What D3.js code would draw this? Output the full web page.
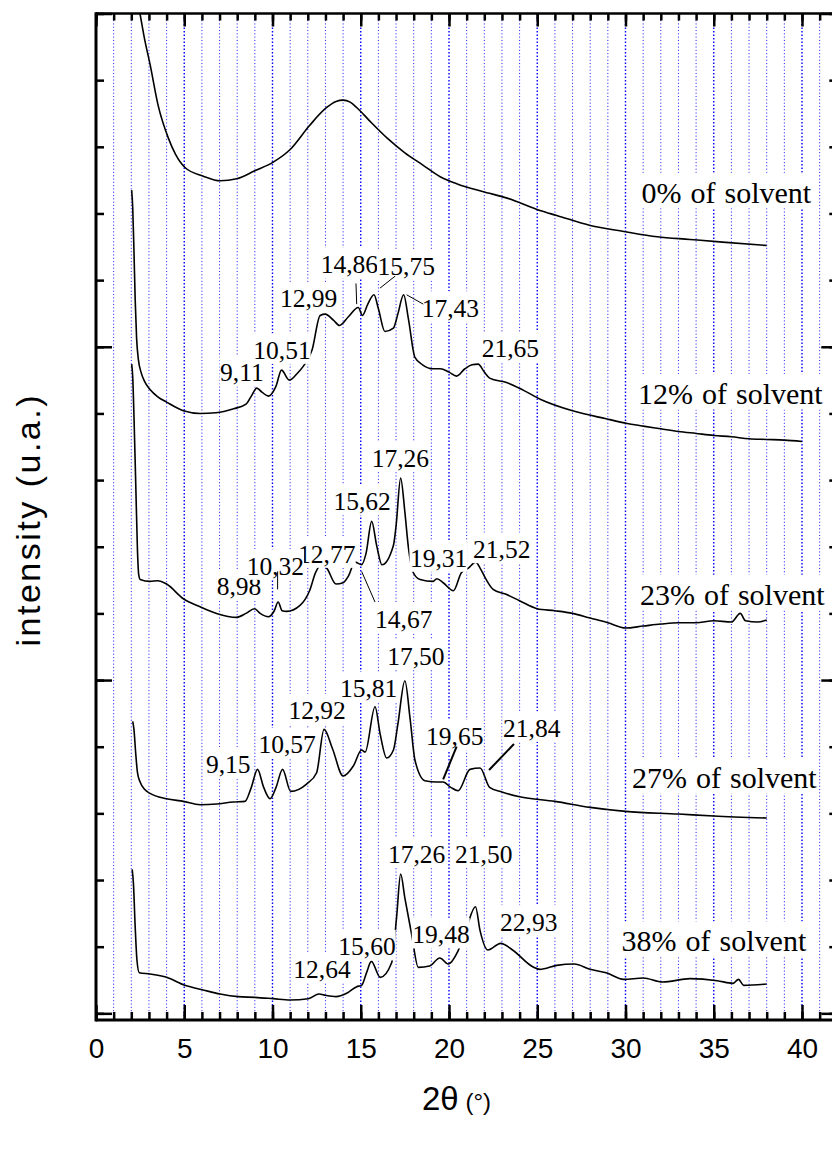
<!DOCTYPE html>
<html>
<head>
<meta charset="utf-8">
<script src="https://cdn.jsdelivr.net/npm/d3@7"></script>
<style>
  html, body { margin: 0; padding: 0; background: #fff; }
  svg { display: block; }
  .serif { font-family: "Liberation Serif", "Times New Roman", serif; }
  .sans { font-family: "Liberation Sans", Arial, sans-serif; }
</style>
</head>
<body>
<svg id="chart" width="832" height="1155"></svg>
<script>
// X-ray diffraction patterns, 2θ in degrees vs. intensity (arbitrary units, stacked)
const xTicksMajor = [0, 5, 10, 15, 20, 25, 30, 35, 40];

const solvent0 = [
  [2.3, 15.26], [2.49, 15.0], [2.75, 14.62], [3.06, 14.24], [3.53, 13.61], [4.1, 13.13],
  [4.5, 12.89], [5.04, 12.69], [6.08, 12.56], [7.03, 12.49], [7.97, 12.52], [9.0, 12.64],
  [10.04, 12.77], [11.0, 12.96], [12.1, 13.32], [13.07, 13.59], [13.6, 13.68], [14.0, 13.70],
  [14.4, 13.67], [14.77, 13.59], [15.5, 13.39], [16.5, 13.13], [17.5, 12.91], [18.5, 12.73],
  [19.5, 12.55], [20.5, 12.44], [21.9, 12.33], [23.3, 12.23], [25.2, 12.04], [26.1, 11.97],
  [28.0, 11.82], [29.9, 11.73], [31.8, 11.65], [33.65, 11.61], [35.5, 11.57], [38.0, 11.52]
];

const solvent12 = [
  [2.02, 12.35], [2.08, 12.09], [2.15, 11.44], [2.22, 10.71], [2.3, 10.13], [2.4, 9.81],
  [2.55, 9.62], [2.75, 9.48], [3.06, 9.36], [3.5, 9.25], [4.0, 9.17], [4.95, 9.04],
  [5.9, 9.00], [6.8, 9.01], [7.8, 9.07], [8.5, 9.14], [8.8, 9.26], [9.11, 9.38],
  [9.4, 9.32], [9.77, 9.26], [10.2, 9.41], [10.51, 9.65], [10.95, 9.50], [11.4, 9.60],
  [11.75, 9.71], [12.24, 9.95], [12.7, 10.47], [12.99, 10.49], [13.45, 10.40], [13.8, 10.32],
  [14.3, 10.45], [14.86, 10.59], [15.1, 10.47], [15.4, 10.64], [15.75, 10.78], [16.0, 10.57],
  [16.37, 10.23], [16.85, 10.28], [17.1, 10.49], [17.43, 10.78], [17.7, 10.42], [18.07, 9.84],
  [18.5, 9.73], [19.1, 9.67], [19.5, 9.67], [20.0, 9.62], [20.43, 9.56], [20.9, 9.67],
  [21.3, 9.73], [21.65, 9.74], [22.0, 9.62], [22.3, 9.53], [23.3, 9.46], [24.2, 9.35],
  [25.2, 9.21], [27.0, 9.04], [28.9, 8.92], [30.1, 8.85], [31, 8.81], [32, 8.77],
  [33, 8.73], [34, 8.70], [35, 8.67], [36, 8.65], [37, 8.62], [38, 8.61], [39, 8.60], [40, 8.58]
];

const solvent23 = [
  [2.02, 9.74], [2.08, 9.55], [2.15, 8.97], [2.25, 7.96], [2.35, 6.94], [2.42, 6.58],
  [2.5, 6.51], [3.06, 6.48], [3.5, 6.49], [4.0, 6.44], [4.95, 6.22], [5.9, 6.10],
  [6.83, 6.00], [7.97, 5.94], [8.5, 6.00], [8.98, 6.07], [9.3, 6.00], [9.77, 5.95],
  [10.1, 6.04], [10.32, 6.17], [10.55, 6.04], [10.8, 6.03], [11.56, 6.12], [12.1, 6.34],
  [12.45, 6.62], [12.77, 6.73], [13.07, 6.68], [13.6, 6.44], [14.0, 6.46], [14.3, 6.56],
  [14.67, 6.77], [15.05, 6.73], [15.3, 6.90], [15.62, 7.38], [15.9, 7.02], [16.2, 6.73],
  [16.85, 7.02], [17.0, 7.31], [17.26, 8.03], [17.5, 7.52], [17.7, 6.99], [17.98, 6.61],
  [18.36, 6.51], [19.1, 6.48], [19.31, 6.52], [19.67, 6.46], [20.25, 6.34], [20.7, 6.61],
  [21.1, 6.68], [21.52, 6.77], [21.76, 6.68], [22.1, 6.51], [22.5, 6.36], [23.2, 6.29],
  [24, 6.19], [25, 6.07], [26, 6.04], [27, 6.00], [28, 5.93], [29, 5.86], [30, 5.78],
  [31, 5.81], [32, 5.84], [33, 5.86], [34, 5.86], [35, 5.89], [36, 5.87], [36.5, 6.00],
  [36.8, 5.89], [37.5, 5.87], [38, 5.90]
];

const solvent27 = [
  [2.08, 4.38], [2.15, 4.26], [2.25, 3.90], [2.35, 3.61], [2.5, 3.47], [2.75, 3.36],
  [3.06, 3.30], [4.0, 3.22], [4.95, 3.18], [5.9, 3.13], [6.83, 3.14], [7.78, 3.17],
  [8.44, 3.18], [8.8, 3.39], [9.15, 3.66], [9.5, 3.39], [9.86, 3.22], [10.2, 3.39],
  [10.57, 3.66], [11.03, 3.33], [11.93, 3.44], [12.5, 3.61], [12.92, 4.26], [13.4, 3.97],
  [14.0, 3.56], [14.58, 3.71], [15.05, 3.95], [15.25, 3.92], [15.81, 4.60], [16.1, 4.19],
  [16.47, 3.83], [16.85, 3.95], [17.1, 4.33], [17.5, 4.99], [17.8, 4.41], [18.07, 3.80],
  [18.64, 3.49], [19.3, 3.47], [19.67, 3.47], [20.1, 3.39], [20.52, 3.34], [21.19, 3.66],
  [21.76, 3.68], [22.3, 3.39], [23.0, 3.32], [24.0, 3.25], [26, 3.18], [28, 3.09],
  [30, 3.03], [33, 2.99], [35, 2.96], [38, 2.93]
];

const solvent38 = [
  [2.05, 2.16], [2.12, 1.95], [2.22, 1.30], [2.32, 0.80], [2.45, 0.61], [3.06, 0.59], [4.0, 0.54],
  [5.04, 0.42], [6.08, 0.35], [7.03, 0.29], [8.06, 0.25], [9.0, 0.24], [10.04, 0.22],
  [11.0, 0.20], [12.03, 0.22], [12.64, 0.29], [13.0, 0.27], [13.6, 0.25], [14.2, 0.30],
  [14.77, 0.40], [15.05, 0.42], [15.33, 0.61], [15.6, 0.78], [16.1, 0.54], [16.75, 0.76],
  [17.03, 1.44], [17.26, 2.09], [17.5, 1.73], [17.88, 1.19], [18.26, 0.69], [18.9, 0.71],
  [19.48, 0.83], [19.96, 0.74], [20.5, 0.93], [21.0, 1.29], [21.5, 1.60], [21.76, 1.24],
  [22.2, 0.95], [22.93, 1.05], [23.6, 0.95], [24.8, 0.69], [25.15, 0.66], [26.1, 0.72],
  [27.1, 0.74], [28.0, 0.66], [28.9, 0.61], [29.9, 0.51], [31.0, 0.53], [32.1, 0.47],
  [33.65, 0.52], [35.2, 0.49], [36.1, 0.45], [36.4, 0.51], [36.7, 0.42], [38.0, 0.44]
];

const patterns = [solvent0, solvent12, solvent23, solvent27, solvent38];

// sample names, anchored at [2θ, intensity] of the text start / baseline
const sampleNames = ["0% of solvent", "12% of solvent", "23% of solvent", "27% of solvent", "38% of solvent"];
const sampleAnchors = [[30.91, 12.16], [30.71, 9.14], [30.82, 6.13], [30.37, 3.38], [29.78, 0.93]];

// peak annotations: text, anchor [2θ, intensity] (text start, baseline)
const peakTexts = [
  "9,11", "10,51", "12,99", "14,86", "15,75", "17,43", "21,65",
  "8,98", "12,77", "10,32", "15,62", "17,26", "19,31", "21,52", "14,67",
  "9,15", "10,57", "12,92", "15,81", "17,50", "19,65", "21,84",
  "12,64", "15,60", "17,26", "19,48", "21,50", "22,93"
];
const peakAnchors = [
  [7.03, 9.48], [8.91, 9.82], [10.42, 10.59], [12.73, 11.10], [15.95, 11.07], [18.45, 10.45], [21.85, 9.84],
  [6.84, 6.27], [11.45, 6.76], [8.54, 6.58], [13.45, 7.55], [15.62, 8.20], [17.79, 6.70], [21.36, 6.83], [15.81, 5.78],
  [6.23, 3.61], [9.20, 3.90], [10.90, 4.41], [13.82, 4.74], [16.50, 5.23], [18.70, 4.02], [23.06, 4.15],
  [11.18, 0.53], [13.73, 0.87], [16.54, 2.26], [17.92, 1.05], [20.34, 2.26], [22.89, 1.24]
];

// leader lines from labels to peaks: [[2θ, I], [2θ, I]], and their weight
const leaders = [
  [[14.73, 10.95], [14.77, 10.64]],
  [[16.95, 11.06], [16.09, 10.88]],
  [[18.54, 10.64], [17.60, 10.78]],
  [[10.29, 6.63], [10.29, 6.36]],
  [[15.05, 6.63], [15.81, 6.17]],
  [[20.43, 4.00], [19.67, 3.51]],
  [[23.68, 4.04], [22.27, 3.65]]
];
const leaderHeavy = [false, false, false, false, false, true, true];

const svg = d3.select("#chart");

const x = d3.scaleLinear().domain([0, 42]).range([96, 96 + 42 * 17.65]);
const y = d3.scaleLinear().domain([-0.1, 15]).range([1020, 13.5]);

const [x0, x1] = x.range();
const [yb, yt] = y.range();

svg.append("defs").append("clipPath").attr("id", "plot-clip")
  .append("rect").attr("x", x0).attr("y", yt).attr("width", x1 - x0).attr("height", yb - yt);

// dotted vertical grid, one line per degree
const gridVals = d3.range(1, 42);
svg.append("g").selectAll("line").data(gridVals).join("line")
  .attr("x1", d => x(d)).attr("x2", d => x(d))
  .attr("y1", yt).attr("y2", yb)
  .attr("stroke", d => d % 5 === 0 ? "#0000ff" : "#2626ff")
  .attr("stroke-width", d => d % 5 === 0 ? 1.4 : 1)
  .attr("stroke-dasharray", d => d % 5 === 0 ? "1.6,1.9" : "1.1,2.2");

// diffraction curves
const line = d3.line().x(d => x(d[0])).y(d => y(d[1])).curve(d3.curveMonotoneX);
svg.append("g").attr("clip-path", "url(#plot-clip)")
  .selectAll("path").data(patterns).join("path")
  .attr("d", line)
  .attr("fill", "none")
  .attr("stroke", "#000")
  .attr("stroke-width", 1.6)
  .attr("stroke-linejoin", "round");

// axes with inward ticks
const minorX = d3.range(0, 43);
const minorY = d3.range(0, 16);
function styleAxis(g) {
  g.select(".domain").remove();
  g.selectAll(".tick line").attr("stroke", "#000").attr("stroke-width", 2.5);
}
svg.append("g").attr("transform", `translate(0,${yb})`)
  .call(d3.axisBottom(x).tickValues(minorX).tickSize(-8).tickSizeOuter(0).tickFormat(""))
  .call(styleAxis);
svg.append("g").attr("transform", `translate(0,${yb})`)
  .call(d3.axisBottom(x).tickValues(xTicksMajor).tickSize(-15).tickSizeOuter(0).tickPadding(18.5).tickFormat(d3.format("d")))
  .call(styleAxis)
  .call(g => g.selectAll("text").attr("class", "sans").attr("font-size", 28).attr("fill", "#000"));
svg.append("g").attr("transform", `translate(0,${yt})`)
  .call(d3.axisTop(x).tickValues(minorX).tickSize(-7).tickSizeOuter(0).tickFormat(""))
  .call(styleAxis);
svg.append("g").attr("transform", `translate(0,${yt})`)
  .call(d3.axisTop(x).tickValues(xTicksMajor).tickSize(-13).tickSizeOuter(0).tickFormat(""))
  .call(styleAxis);
[[x0, d3.axisLeft], [x1, d3.axisRight]].forEach(([px, ax]) => {
  svg.append("g").attr("transform", `translate(${px},0)`)
    .call(ax(y).tickValues(minorY).tickSize(-8).tickSizeOuter(0).tickFormat(""))
    .call(styleAxis);
  svg.append("g").attr("transform", `translate(${px},0)`)
    .call(ax(y).tickValues([0, 5, 10, 15]).tickSize(-16).tickSizeOuter(0).tickFormat(""))
    .call(styleAxis);
});

// frame
svg.append("line").attr("x1", x0).attr("x2", x1).attr("y1", yt).attr("y2", yt)
  .attr("stroke", "#000").attr("stroke-width", 2.5);
svg.append("line").attr("x1", x0).attr("x2", x1).attr("y1", yb).attr("y2", yb)
  .attr("stroke", "#000").attr("stroke-width", 3);
svg.append("line").attr("x1", x0).attr("x2", x0).attr("y1", yt - 1.2).attr("y2", yb + 1.5)
  .attr("stroke", "#000").attr("stroke-width", 3);
svg.append("line").attr("x1", x1).attr("x2", x1).attr("y1", yt - 1.2).attr("y2", yb + 1.5)
  .attr("stroke", "#000").attr("stroke-width", 3);

// text with an opaque white box behind it
const labelLayer = svg.append("g");
function boxedText(str, anchor, size, above, below, spacing) {
  const g = labelLayer.append("g");
  const bx = x(anchor[0]), by = y(anchor[1]);
  const t = g.append("text").attr("class", "serif")
    .attr("x", bx).attr("y", by)
    .attr("font-size", size).attr("word-spacing", spacing).attr("fill", "#000").text(str);
  const w = t.node().getBBox().width;
  g.insert("rect", "text")
    .attr("x", bx - 0.5).attr("y", by - size * above)
    .attr("width", w + 0.5).attr("height", size * (above + below))
    .attr("fill", "#fff");
}
peakTexts.forEach((s, i) => boxedText(s, peakAnchors[i], 25.5, 1.0, 0.2, 0));
sampleNames.forEach((s, i) => boxedText(s, sampleAnchors[i], 30, 1.0, 0.18, 1.5));

svg.append("g").selectAll("line").data(leaders).join("line")
  .attr("x1", d => x(d[0][0])).attr("y1", d => y(d[0][1]))
  .attr("x2", d => x(d[1][0])).attr("y2", d => y(d[1][1]))
  .attr("stroke", "#000")
  .attr("stroke-width", (d, i) => leaderHeavy[i] ? 2 : 1);

// axis titles
svg.append("text").attr("class", "sans")
  .attr("transform", `translate(40,${(yt + yb) / 2 + 3}) rotate(-90)`)
  .attr("text-anchor", "middle").attr("font-size", 34).attr("letter-spacing", 2.5).attr("fill", "#000")
  .text("intensity (u.a.)");
const xt = svg.append("text").attr("class", "sans")
  .attr("x", 422).attr("y", 1110)
  .attr("fill", "#000");
xt.append("tspan").attr("font-size", 33).text("2θ");
xt.append("tspan").attr("font-size", 24).text(" (°)");
</script>
</body>
</html>
